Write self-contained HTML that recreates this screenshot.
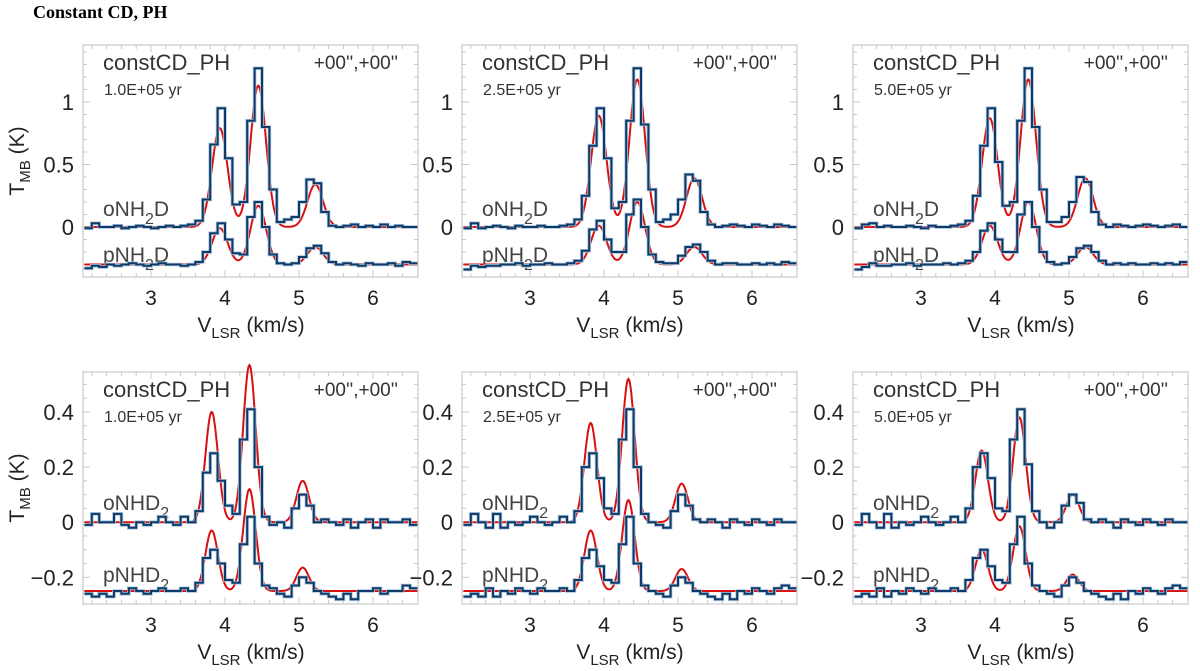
<!DOCTYPE html>
<html><head><meta charset="utf-8"><style>
html,body{margin:0;padding:0;background:#fff;}
svg{display:block;font-family:"Liberation Sans",sans-serif;}
</style></head><body>
<svg id="fig" width="1200" height="671" viewBox="0 0 1200 671">
<text x="33" y="18" font-family="Liberation Serif, serif" font-weight="bold" font-size="18" fill="#000">Constant CD, PH</text>
</svg>
<script>
// channel centres (km/s)
const velocities = [2.15,2.25,2.35,2.45,2.55,2.65,2.75,2.85,2.95,3.05,3.15,3.25,3.35,3.45,3.55,3.65,3.75,3.85,3.95,4.05,4.15,4.25,4.35,4.45,4.55,4.65,4.75,4.85,4.95,5.05,5.15,5.25,5.35,5.45,5.55,5.65,5.75,5.85,5.95,6.05,6.15,6.25,6.35,6.45,6.55];
const xTicks = [3,4,5,6];
const topYTicks = [0,0.5,1];
const topYTickLabels = ["0","0.5","1"];
const botYTicks = [-0.2,0,0.2,0.4];
const botYTickLabels = ["\u22120.2","0","0.2","0.4"];
const ages = ["1.0E+05 yr","2.5E+05 yr","5.0E+05 yr"];
// NH2D observed (relative to each baseline)
const t1o = [-0.01,0.03,0.0,0.0,0.01,-0.01,0.0,0.01,0.0,-0.01,0.0,0.01,0.0,0.01,0.02,0.05,0.22,0.66,0.95,0.55,0.18,0.2,0.85,1.27,0.8,0.3,0.04,0.06,0.08,0.2,0.38,0.35,0.12,0.01,0.0,0.01,0.02,0.0,0.01,0.0,0.02,0.0,0.01,0.0,0.0];
const t1p = [-0.03,-0.01,-0.02,0.0,-0.01,0.0,0.01,0.0,-0.01,0.0,0.01,0.0,0.0,-0.01,0.0,0.02,0.1,0.25,0.33,0.2,0.09,0.08,0.38,0.5,0.3,0.08,0.01,0.0,0.01,0.06,0.13,0.15,0.09,0.02,0.0,0.01,0.0,-0.01,0.01,0.0,0.0,0.01,-0.01,0.02,0.01];
const t2o = [-0.01,0.03,-0.01,0.0,0.01,0.0,-0.01,0.01,0.0,0.0,0.01,0.0,0.0,0.01,0.02,0.06,0.25,0.65,0.95,0.55,0.15,0.2,0.85,1.27,0.82,0.3,0.04,0.06,0.1,0.22,0.42,0.37,0.12,0.02,0.0,0.01,0.02,0.01,0.0,0.02,0.01,0.0,0.02,0.01,0.0];
const t2p = [-0.04,-0.01,-0.02,-0.01,-0.01,0.0,0.0,0.01,-0.01,0.0,0.0,0.01,0.0,0.0,0.01,0.03,0.11,0.28,0.35,0.2,0.1,0.1,0.4,0.52,0.3,0.08,0.02,0.01,0.01,0.07,0.14,0.16,0.1,0.03,0.0,0.01,0.01,0.0,0.0,0.01,0.0,0.01,0.0,0.02,0.01];
const t3o = [-0.01,0.02,0.03,0.0,0.01,0.0,0.0,0.01,0.0,-0.01,0.01,0.0,0.0,0.01,0.02,0.05,0.25,0.65,0.95,0.52,0.17,0.2,0.85,1.27,0.8,0.3,0.04,0.04,0.08,0.2,0.4,0.36,0.12,0.02,0.0,0.02,0.01,0.0,0.01,0.02,0.01,0.0,0.01,0.02,0.0];
const t3p = [-0.04,-0.02,0.01,-0.01,-0.01,0.0,0.0,0.01,-0.01,0.0,0.0,0.0,0.01,0.0,0.01,0.03,0.1,0.27,0.33,0.2,0.1,0.1,0.4,0.5,0.3,0.1,0.02,0.0,0.01,0.06,0.13,0.15,0.1,0.03,0.0,0.01,0.0,0.01,0.0,0.0,0.01,0.0,0.01,0.0,0.02];
// NHD2 observed
const b1o = [-0.01,0.03,0.0,0.0,0.03,-0.01,-0.02,0.0,-0.01,0.0,0.02,0.0,-0.01,0.02,0.0,0.04,0.18,0.25,0.15,0.06,0.03,0.3,0.41,0.2,0.02,-0.01,0.0,-0.02,0.05,0.1,0.06,0.0,0.01,0.0,-0.01,0.01,-0.02,0.0,0.01,-0.02,0.01,0.0,0.0,0.01,-0.01];
const b1p = [-0.01,-0.02,-0.01,-0.02,0.0,-0.01,0.01,0.0,-0.01,0.0,0.01,0.0,0.0,0.01,0.0,0.03,0.12,0.15,0.1,0.04,0.03,0.17,0.27,0.1,0.02,0.01,-0.01,-0.02,0.02,0.05,0.03,0.0,-0.01,-0.02,-0.03,-0.01,-0.03,0.0,0.0,0.01,-0.01,0.0,0.0,0.02,0.01];
const b2o = [-0.01,0.03,0.0,-0.02,0.03,-0.02,0.0,-0.01,0.0,0.02,0.0,-0.01,0.0,0.02,0.0,0.04,0.2,0.25,0.16,0.05,0.03,0.3,0.41,0.2,0.03,0.0,-0.01,-0.02,0.04,0.1,0.06,0.01,0.0,0.01,0.0,-0.02,0.01,0.0,-0.01,0.01,0.0,-0.01,0.01,0.0,0.0];
const b2p = [-0.02,-0.01,-0.02,0.01,-0.02,0.0,-0.01,0.01,0.0,-0.01,0.01,0.0,0.0,0.01,0.0,0.04,0.12,0.15,0.09,0.04,0.03,0.17,0.27,0.1,0.02,0.0,-0.01,-0.02,0.02,0.05,0.03,0.0,-0.01,-0.02,-0.03,-0.01,-0.03,0.0,-0.01,0.01,0.0,-0.01,0.01,0.02,0.01];
const b3o = [-0.01,0.03,0.0,-0.02,0.03,-0.02,0.0,-0.01,0.0,0.02,0.0,-0.01,0.0,0.02,0.0,0.05,0.2,0.25,0.16,0.05,0.04,0.3,0.41,0.21,0.04,0.0,-0.02,0.0,0.06,0.1,0.07,0.01,0.0,0.01,0.0,-0.02,0.01,0.0,-0.01,0.01,0.0,-0.01,0.01,0.0,0.0];
const b3p = [-0.02,-0.01,-0.02,0.01,-0.02,0.0,-0.01,0.01,0.0,-0.01,0.01,0.0,0.0,0.01,0.0,0.04,0.12,0.15,0.09,0.04,0.03,0.17,0.27,0.1,0.02,0.0,-0.01,-0.02,0.02,0.05,0.03,0.0,-0.01,-0.02,-0.03,-0.01,-0.03,0.0,-0.01,0.01,0.0,-0.01,0.01,0.02,0.01];
// model line components
const nh2dCenters = [3.93,4.45,5.22];
const nhd2Centers = [3.82,4.33,5.05];
const t1oModel = [0.79,1.13,0.34], t1pModel = [0.29,0.47,0.14];
const t2oModel = [0.89,1.18,0.39], t2pModel = [0.31,0.5,0.14];
const t3oModel = [0.87,1.18,0.39], t3pModel = [0.31,0.5,0.14];
const b1oModel = [0.40,0.57,0.15], b1pModel = [0.22,0.37,0.085];
const b2oModel = [0.36,0.52,0.14], b2pModel = [0.22,0.33,0.08];
const b3oModel = [0.26,0.38,0.10], b3pModel = [0.15,0.235,0.06];

const NS="http://www.w3.org/2000/svg";
const svg=document.getElementById('fig');
function mk(tag,attrs,parent){const e=document.createElementNS(NS,tag);for(const k in attrs)e.setAttribute(k,attrs[k]);(parent||svg).appendChild(e);return e;}

const colLeft=[83,462,853], W=335, rowTop=[45,372], H=232;
const xMin=2.081, xMax=6.608;
const rows=[
 {yMin:-0.4,yMax:1.456,ticks:topYTicks,labels:topYTickLabels,minor:0.1,centers:nh2dCenters,sig:0.105,
  oName:["oNH","2","D"],pName:["pNH","2","D"],pOff:-0.3,
  obs:[[t1o,t1p],[t2o,t2p],[t3o,t3p]],mod:[[t1oModel,t1pModel],[t2oModel,t2pModel],[t3oModel,t3pModel]],oLab:216,pLab:262},
 {yMin:-0.297,yMax:0.545,ticks:botYTicks,labels:botYTickLabels,minor:0.05,centers:nhd2Centers,sig:0.085,
  oName:["oNHD","2",""],pName:["pNHD","2",""],pOff:-0.25,
  obs:[[b1o,b1p],[b2o,b2p],[b3o,b3p]],mod:[[b1oModel,b1pModel],[b2oModel,b2pModel],[b3oModel,b3pModel]],oLab:510,pLab:582}
];

rows.forEach((R,ri)=>{
 for(let ci=0;ci<3;ci++){
  const L=colLeft[ci],T=rowTop[ri];
  const g=mk('g',{});
  
  
  const X=v=>L+(v-xMin)/(xMax-xMin)*W;
  const Y=v=>T+H-(v-R.yMin)/(R.yMax-R.yMin)*H;
  const fr=mk('rect',{x:L,y:T,width:W,height:H,fill:'none',stroke:'#c8c8c8','stroke-width':1.2},g);
  
  
  for(let v=2.2;v<=6.6;v+=0.2){const vv=Math.round(v*10)/10;const maj=Math.abs(vv-Math.round(vv))<1e-6;const len=maj?7:4;
   mk('line',{x1:X(vv),x2:X(vv),y1:T+H,y2:T+H-len,stroke:'#c8c8c8'},g);
   mk('line',{x1:X(vv),x2:X(vv),y1:T,y2:T+len,stroke:'#c8c8c8'},g);}
  xTicks.forEach(v=>{const t=mk('text',{x:X(v),y:T+H+28,'text-anchor':'middle','font-size':21,fill:'#222'},g);t.textContent=v;
   });
  for(let v=Math.ceil(R.yMin/R.minor)*R.minor;v<=R.yMax;v+=R.minor){const vv=Math.round(v*100)/100;
   const maj=R.ticks.some(t=>Math.abs(t-vv)<1e-6);const len=maj?7:4;
   mk('line',{x1:L,x2:L+len,y1:Y(vv),y2:Y(vv),stroke:'#c8c8c8'},g);
   mk('line',{x1:L+W,x2:L+W-len,y1:Y(vv),y2:Y(vv),stroke:'#c8c8c8'},g);}
  R.ticks.forEach((v,i)=>{const t=mk('text',{x:L-9,y:Y(v)+8,'text-anchor':'end','font-size':22,fill:'#222'},g);t.textContent=R.labels[i];
   });
  const xt=mk('text',{x:L+168,y:T+H+55,'text-anchor':'middle','font-size':21,fill:'#222'},g);
  xt.innerHTML='V<tspan font-size="15" dy="6">LSR</tspan><tspan dy="-6"> (km/s)</tspan>';
  
  const a=mk('text',{x:L+20,y:T+25,'font-size':22,fill:'#333'},g);a.textContent='constCD_PH';
  
  const b=mk('text',{x:L+315,y:T+24,'text-anchor':'end','font-size':19,fill:'#333'},g);b.textContent="+00'',+00''";
  
  const c=mk('text',{x:L+21,y:T+50,'font-size':16,fill:'#333'},g);c.textContent=ages[ci];
  
  const series=[[R.obs[ci][0],R.mod[ci][0],0,R.oName,R.oLab],[R.obs[ci][1],R.mod[ci][1],R.pOff,R.pName,R.pLab]];
  series.forEach((s,si)=>{
   const lab=mk('text',{x:L+20,y:s[4],'font-size':21,fill:'#444'},g);
   lab.innerHTML=s[3][0]+'<tspan font-size="16" dy="8">'+s[3][1]+'</tspan><tspan dy="-8">'+s[3][2]+'</tspan>';
   
   let d='';for(let v=velocities[0]-0.05;v<=velocities[velocities.length-1]+0.05;v+=0.01){let y=s[2];
    R.centers.forEach((cc,k)=>{y+=s[1][k]*Math.exp(-0.5*Math.pow((v-cc)/R.sig,2));});
    d+=(d?'L':'M')+X(v).toFixed(1)+','+Y(y).toFixed(1);}
   const m=mk('path',{d:d,fill:'none',stroke:'#d81010','stroke-width':2},g);
   
   let od='';velocities.forEach((v,i)=>{const y=Y(s[0][i]+s[2]);const x0=X(v-0.05),x1=X(v+0.05);
    od+=(i?'L'+x0.toFixed(1)+','+y.toFixed(1):'M'+x0.toFixed(1)+','+y.toFixed(1))+'L'+x1.toFixed(1)+','+y.toFixed(1);});
   mk('path',{d:od,fill:'none',stroke:'#a9c4dd','stroke-width':3.6,'stroke-linejoin':'miter'},g);
   const o=mk('path',{d:od,fill:'none',stroke:'#0e3a68','stroke-width':2,'stroke-linejoin':'miter'},g);
   
  });
 }
 const yt=mk('text',{transform:'translate(24,'+(rowTop[ri]+116)+') rotate(-90)','text-anchor':'middle','font-size':21,fill:'#222'});
 yt.innerHTML='T<tspan font-size="15" dy="6">MB</tspan><tspan dy="-6"> (K)</tspan>';
 
});
</script>
</body></html>
